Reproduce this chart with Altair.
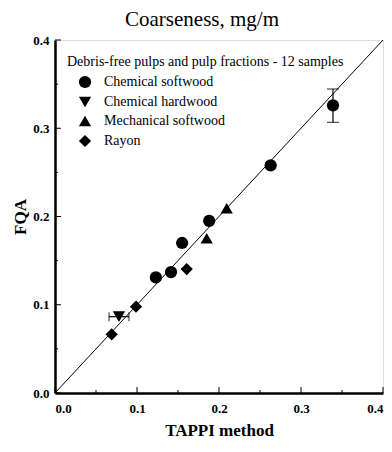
import altair as alt
import pandas as pd

# Data
soft_x = [0.339, 0.263, 0.188, 0.155, 0.1415, 0.123]
soft_y = [0.326, 0.258, 0.195, 0.170, 0.137, 0.131]
hard_x = [0.078]
hard_y = [0.0865]
mech_x = [0.2094, 0.185]
mech_y = [0.2093, 0.1753]
rayon_x = [0.0691, 0.0988, 0.1606]
rayon_y = [0.0665, 0.0978, 0.1405]

groups = ["Chemical softwood", "Chemical hardwood", "Mechanical softwood", "Rayon"]
shapes = ["circle", "triangle-down", "triangle-up", "diamond"]

# vertical error bars (x, low, high)
ev_x = [0.339, 0.263, 0.155]
ev_lo = [0.3067, 0.2545, 0.1655]
ev_hi = [0.3445, 0.2620, 0.1740]
ev_cap = [12, 8, 8]
# horizontal error bars (y, low, high)
eh_y = [0.0865]
eh_lo = [0.0659]
eh_hi = [0.0902]

major = [0.0, 0.1, 0.2, 0.3, 0.4]
minor = [0.05, 0.15, 0.25, 0.35]
line_ends = [0.0, 0.4]

rows = []
for g, xs, ys in zip(groups, [soft_x, hard_x, mech_x, rayon_x], [soft_y, hard_y, mech_y, rayon_y]):
    for a, b in zip(xs, ys):
        rows.append({"group": g, "x": a, "y": b})
pts = pd.DataFrame(rows)

serif = "Liberation Serif"
W, H = 328, 353

xscale = alt.Scale(domain=[0, 0.4], nice=False, zero=False)
yscale = alt.Scale(domain=[0, 0.4], nice=False, zero=False)

xaxis = alt.Axis(values=major, format=".1f", ticks=False, grid=False,
                 labelFont=serif, labelFontWeight="bold", labelFontSize=13, labelColor="black",
                 labelPadding=9, domainColor="black", domainWidth=2.5,
                 title="TAPPI method", titleFont=serif, titleFontWeight="bold",
                 titleFontSize=17, titleColor="black", titlePadding=7)
yaxis = alt.Axis(values=major, format=".1f", ticks=False, grid=False,
                 labelFont=serif, labelFontWeight="bold", labelFontSize=13, labelColor="black",
                 labelPadding=6, domainColor="black", domainWidth=2.5,
                 title="FQA", titleFont=serif, titleFontWeight="bold",
                 titleFontSize=17, titleColor="black", titlePadding=3)

diag = alt.Chart(pd.DataFrame({"x": line_ends, "y": line_ends})).mark_line(
    color="black", strokeWidth=1).encode(
    x=alt.X("x:Q", scale=xscale, axis=xaxis),
    y=alt.Y("y:Q", scale=yscale, axis=yaxis))

ev = pd.DataFrame({"x": ev_x, "lo": ev_lo, "hi": ev_hi, "cap": ev_cap})
ev_rule = alt.Chart(ev).mark_rule(color="black", strokeWidth=1.2).encode(
    x="x:Q", y="lo:Q", y2="hi:Q")
ev_cap_lo = alt.Chart(ev).mark_tick(color="black", orient="horizontal", thickness=1.2).encode(
    x="x:Q", y="lo:Q", size=alt.Size("cap:Q", scale=None, legend=None))
ev_cap_hi = alt.Chart(ev).mark_tick(color="black", orient="horizontal", thickness=1.2).encode(
    x="x:Q", y="hi:Q", size=alt.Size("cap:Q", scale=None, legend=None))

eh = pd.DataFrame({"y": eh_y, "lo": eh_lo, "hi": eh_hi})
eh_rule = alt.Chart(eh).mark_rule(color="black", strokeWidth=1.2).encode(
    y="y:Q", x="lo:Q", x2="hi:Q")
eh_cap_lo = alt.Chart(eh).mark_tick(color="black", orient="vertical", thickness=1.2, size=9).encode(
    y="y:Q", x="lo:Q")
eh_cap_hi = alt.Chart(eh).mark_tick(color="black", orient="vertical", thickness=1.2, size=9).encode(
    y="y:Q", x="hi:Q")

points = alt.Chart(pts).mark_point(filled=True, color="black", opacity=1, size=150).encode(
    x="x:Q", y="y:Q",
    shape=alt.Shape("group:N", scale=alt.Scale(domain=groups, range=shapes),
                    legend=alt.Legend(title=None, orient="none", legendX=23, legendY=35,
                                      labelFont=serif, labelFontSize=14, labelColor="black",
                                      symbolSize=150, symbolFillColor="black",
                                      symbolStrokeColor="black", labelOffset=12,
                                      rowPadding=1)))

tick_df_major = pd.DataFrame({"v": major})
tick_df_minor = pd.DataFrame({"v": minor})
ytick_major = alt.Chart(tick_df_major).mark_rule(color="black", strokeWidth=1).encode(
    y="v:Q", x=alt.value(0), x2=alt.value(6))
ytick_minor = alt.Chart(tick_df_minor).mark_rule(color="black", strokeWidth=1).encode(
    y="v:Q", x=alt.value(0), x2=alt.value(3))
xtick_major = alt.Chart(tick_df_major).mark_rule(color="black", strokeWidth=1).encode(
    x="v:Q", y=alt.value(H), y2=alt.value(H - 6))
xtick_minor = alt.Chart(tick_df_minor).mark_rule(color="black", strokeWidth=1).encode(
    x="v:Q", y=alt.value(H), y2=alt.value(H - 3))

legend_title = alt.Chart(pd.DataFrame({"t": ["Debris-free pulps and pulp fractions - 12 samples"]})).mark_text(
    align="left", baseline="middle", font=serif, fontSize=14, color="black").encode(
    text="t:N", x=alt.value(12), y=alt.value(22))

chart = alt.layer(diag, ev_rule, ev_cap_lo, ev_cap_hi, eh_rule, eh_cap_lo, eh_cap_hi,
                  points, ytick_major, ytick_minor, xtick_major, xtick_minor, legend_title
).properties(
    width=W, height=H,
    title=alt.TitleParams("Coarseness, mg/m", font=serif, fontSize=21, fontWeight="normal",
                          color="black", dx=-17, offset=4),
    autosize=alt.AutoSizeParams(type="none"),
    padding={"left": 47, "top": 32, "right": 1, "bottom": 51},
).configure_view(stroke="black", strokeWidth=2).configure(background="white")

chart.save("out.html", embed_options={"renderer": "svg", "actions": False})
